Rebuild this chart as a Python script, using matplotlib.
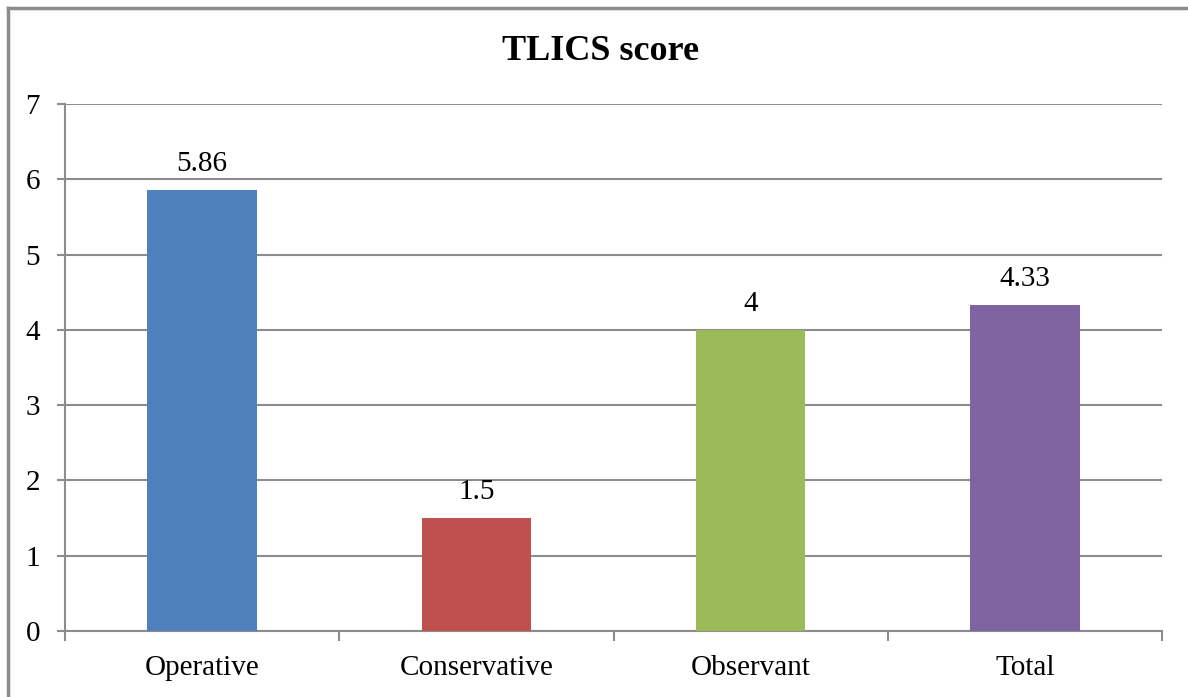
import matplotlib.pyplot as plt
from matplotlib.lines import Line2D

# --- Data ---
categories = ["Operative", "Conservative", "Observant", "Total"]
scores = [5.86, 1.5, 4, 4.33]
score_labels = ["5.86", "1.5", "4", "4.33"]
bar_colors = ["#4F81BD", "#C0504D", "#9BBB59", "#8064A2"]

plt.rcParams['font.family'] = ['Liberation Serif', 'DejaVu Serif']

fig = plt.figure(figsize=(11.88, 6.97), dpi=100)
ax = fig.add_axes([65 / 1188, 1 - 631 / 697, (1162 - 65) / 1188, (631 - 104) / 697])

x = list(range(len(categories)))
ax.bar(x, scores, width=0.4, color=bar_colors, zorder=3)
for xi, v, lab in zip(x, scores, score_labels):
    ax.text(xi, v + 0.17, lab, ha='center', va='bottom', fontsize=21)

ax.set_xlim(-0.5, len(categories) - 0.5)
ax.set_ylim(0, 7)
ax.set_yticks(range(0, 8))
ax.set_xticks(x)
ax.set_xticklabels(categories, fontsize=21)
ax.tick_params(axis='y', labelsize=21, length=6, color='#8c8c8c', width=1.5, pad=12)
ax.tick_params(axis='x', length=0, pad=17)
ax.set_xticks([i - 0.5 for i in range(len(categories) + 1)], minor=True)
ax.tick_params(axis='x', which='minor', length=7, color='#8c8c8c', width=1.5)

ax.grid(axis='y', color='#8c8c8c', linewidth=1.5, zorder=0)
for s in ['top', 'right']:
    ax.spines[s].set_visible(False)
for s in ['left', 'bottom']:
    ax.spines[s].set_color('#8c8c8c')
    ax.spines[s].set_linewidth(1.5)

fig.text(600 / 1188, 1 - 52 / 697, "TLICS score", ha='center', va='center',
         fontsize=26, fontweight='bold')

# outer chart border (left and top visible)
fig.add_artist(Line2D([8 / 1188, 8 / 1188], [0, 1 - 8 / 697], color='#8c8c8c', lw=2.5,
                      transform=fig.transFigure))
fig.add_artist(Line2D([8 / 1188, 1], [1 - 8 / 697, 1 - 8 / 697], color='#8c8c8c', lw=2.5,
                      transform=fig.transFigure))

fig.savefig("out.png", dpi=100)
